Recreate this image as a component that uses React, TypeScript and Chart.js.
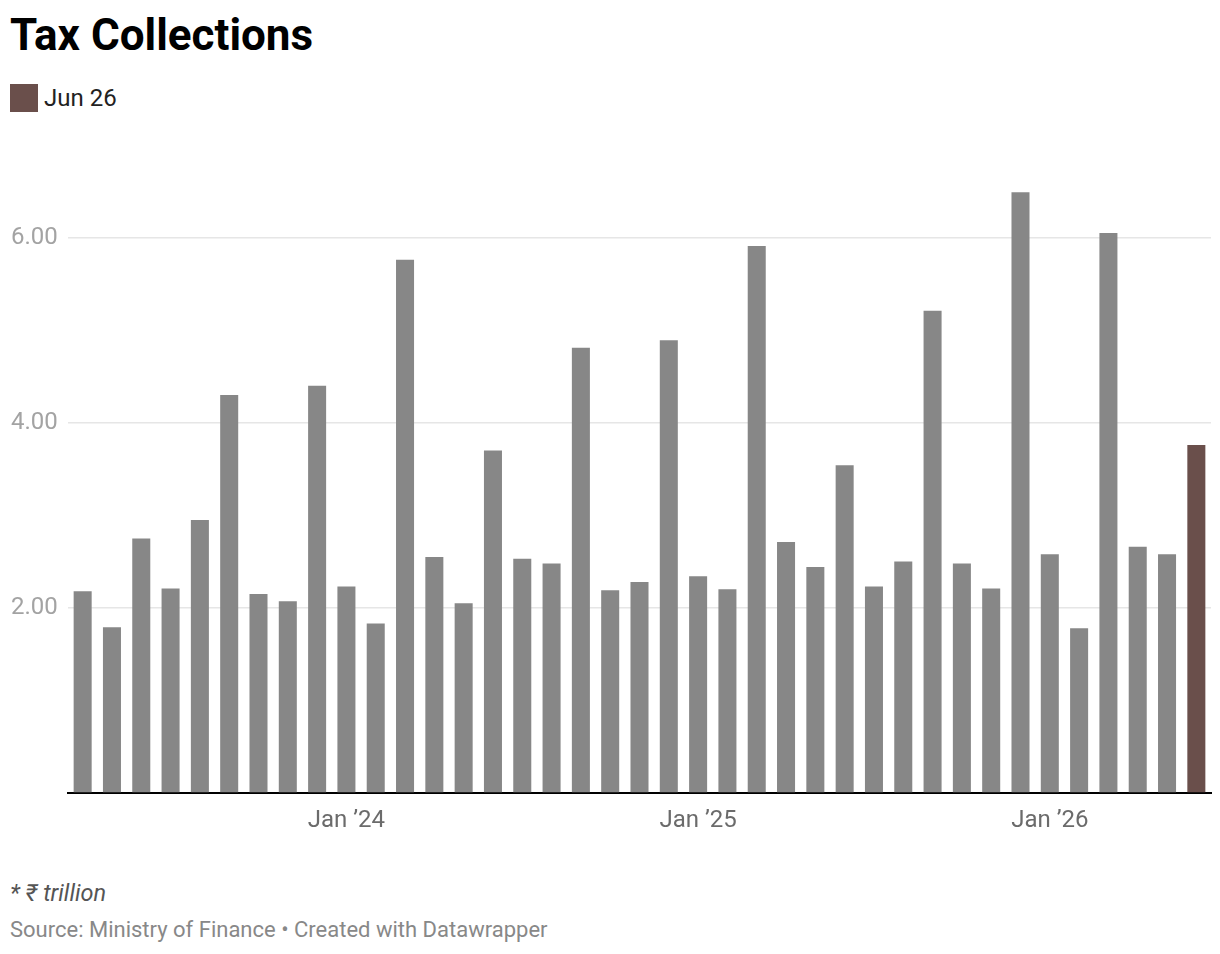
import { useEffect, useRef } from 'react';
import { Chart, registerables } from 'chart.js';

Chart.register(...registerables);

// monthly labels, Apr 2023 to Jun 2026
const months = [
  'Apr 23', 'May 23', 'Jun 23', 'Jul 23', 'Aug 23', 'Sep 23', 'Oct 23', 'Nov 23', 'Dec 23',
  'Jan 24', 'Feb 24', 'Mar 24', 'Apr 24', 'May 24', 'Jun 24', 'Jul 24', 'Aug 24', 'Sep 24',
  'Oct 24', 'Nov 24', 'Dec 24', 'Jan 25', 'Feb 25', 'Mar 25', 'Apr 25', 'May 25', 'Jun 25',
  'Jul 25', 'Aug 25', 'Sep 25', 'Oct 25', 'Nov 25', 'Dec 25', 'Jan 26', 'Feb 26', 'Mar 26',
  'Apr 26', 'May 26', 'Jun 26',
];

// tax collections, ₹ trillion
const collections = [
  2.18, 1.79, 2.75, 2.21, 2.95, 4.30, 2.15, 2.07, 4.40,
  2.23, 1.83, 5.76, 2.55, 2.05, 3.70, 2.53, 2.48, 4.81,
  2.19, 2.28, 4.89, 2.34, 2.20, 5.91, 2.71, 2.44, 3.54,
  2.23, 2.50, 5.21, 2.48, 2.21, 6.49, 2.58, 1.78, 6.05,
  2.66, 2.58, 3.76,
];

const yTicks = [0, 2, 4, 6];

const GREY = '#878787';
const HIGHLIGHT = '#6a4f4b';

export default function App() {
  const canvasRef = useRef<HTMLCanvasElement>(null);

  useEffect(() => {
    document.body.style.margin = '0';
    if (!canvasRef.current) return;
    const last = months.length - 1;

    const chart = new Chart(canvasRef.current, {
      type: 'bar',
      data: {
        labels: months,
        datasets: [{
          label: 'Tax collections',
          data: collections,
          backgroundColor: collections.map((_, i) => (i === last ? HIGHLIGHT : GREY)),
          borderWidth: 0,
          categoryPercentage: 1,
          barPercentage: 0.615,
        }],
      },
      options: {
        animation: false,
        responsive: true,
        maintainAspectRatio: false,
        layout: { padding: { left: 11, right: 9, top: 52, bottom: 0 } },
        plugins: {
          legend: { display: false },
          tooltip: { enabled: false },
        },
        scales: {
          x: {
            z: 1,
            grid: { display: false, drawTicks: false },
            border: { display: true, color: '#000', width: 2 },
            ticks: {
              autoSkip: false,
              maxRotation: 0,
              padding: 14,
              color: '#6b6b6b',
              font: { family: 'Roboto', size: 24 },
              callback: (_v, i) => {
                const m = months[i];
                return m.startsWith('Jan') ? 'Jan \u2019' + m.slice(4) : '';
              },
            },
            afterFit: (scale) => { scale.height = 57; },
          },
          y: {
            min: 0,
            max: 6.6,
            grid: {
              color: (ctx) => (ctx.tick && ctx.tick.value === 0 ? 'rgba(0,0,0,0)' : '#e6e6e6'),
              lineWidth: 1.5,
              drawTicks: false,
            },
            border: { display: false },
            ticks: {
              crossAlign: 'far',
              padding: 0,
              color: '#a3a3a3',
              font: { family: 'Roboto', size: 24 },
              callback: (v) => (Number(v) === 0 ? '' : Number(v).toFixed(2)),
            },
            afterBuildTicks: (scale) => { scale.ticks = yTicks.map((v) => ({ value: v })); },
            afterFit: (scale) => { scale.width = 57; },
          },
        },
      },
    });

    return () => chart.destroy();
  }, []);

  return (
    <div style={{ position: 'relative', width: 1220, height: 954, background: '#fff', fontFamily: 'Roboto, sans-serif' }}>
      <div style={{ position: 'absolute', left: 10, top: 13, fontSize: 44, lineHeight: 1, fontWeight: 700, color: '#000' }}>
        Tax Collections
      </div>
      <div style={{ position: 'absolute', left: 10, top: 84, display: 'flex', alignItems: 'center' }}>
        <span style={{ width: 28, height: 28, background: HIGHLIGHT, display: 'inline-block' }} />
        <span style={{ marginLeft: 6, fontSize: 24, lineHeight: 1, color: '#222' }}>Jun 26</span>
      </div>
      <div style={{ position: 'absolute', left: 0, top: 130, width: 1220, height: 720 }}>
        <canvas ref={canvasRef}></canvas>
      </div>
      <div style={{ position: 'absolute', left: 10, top: 882, fontSize: 23.5, lineHeight: 1, fontStyle: 'italic', color: '#555' }}>
        * ₹ trillion
      </div>
      <div style={{ position: 'absolute', left: 10, top: 919, fontSize: 22, lineHeight: 1, color: '#888' }}>
        Source: Ministry of Finance • Created with Datawrapper
      </div>
    </div>
  );
}
